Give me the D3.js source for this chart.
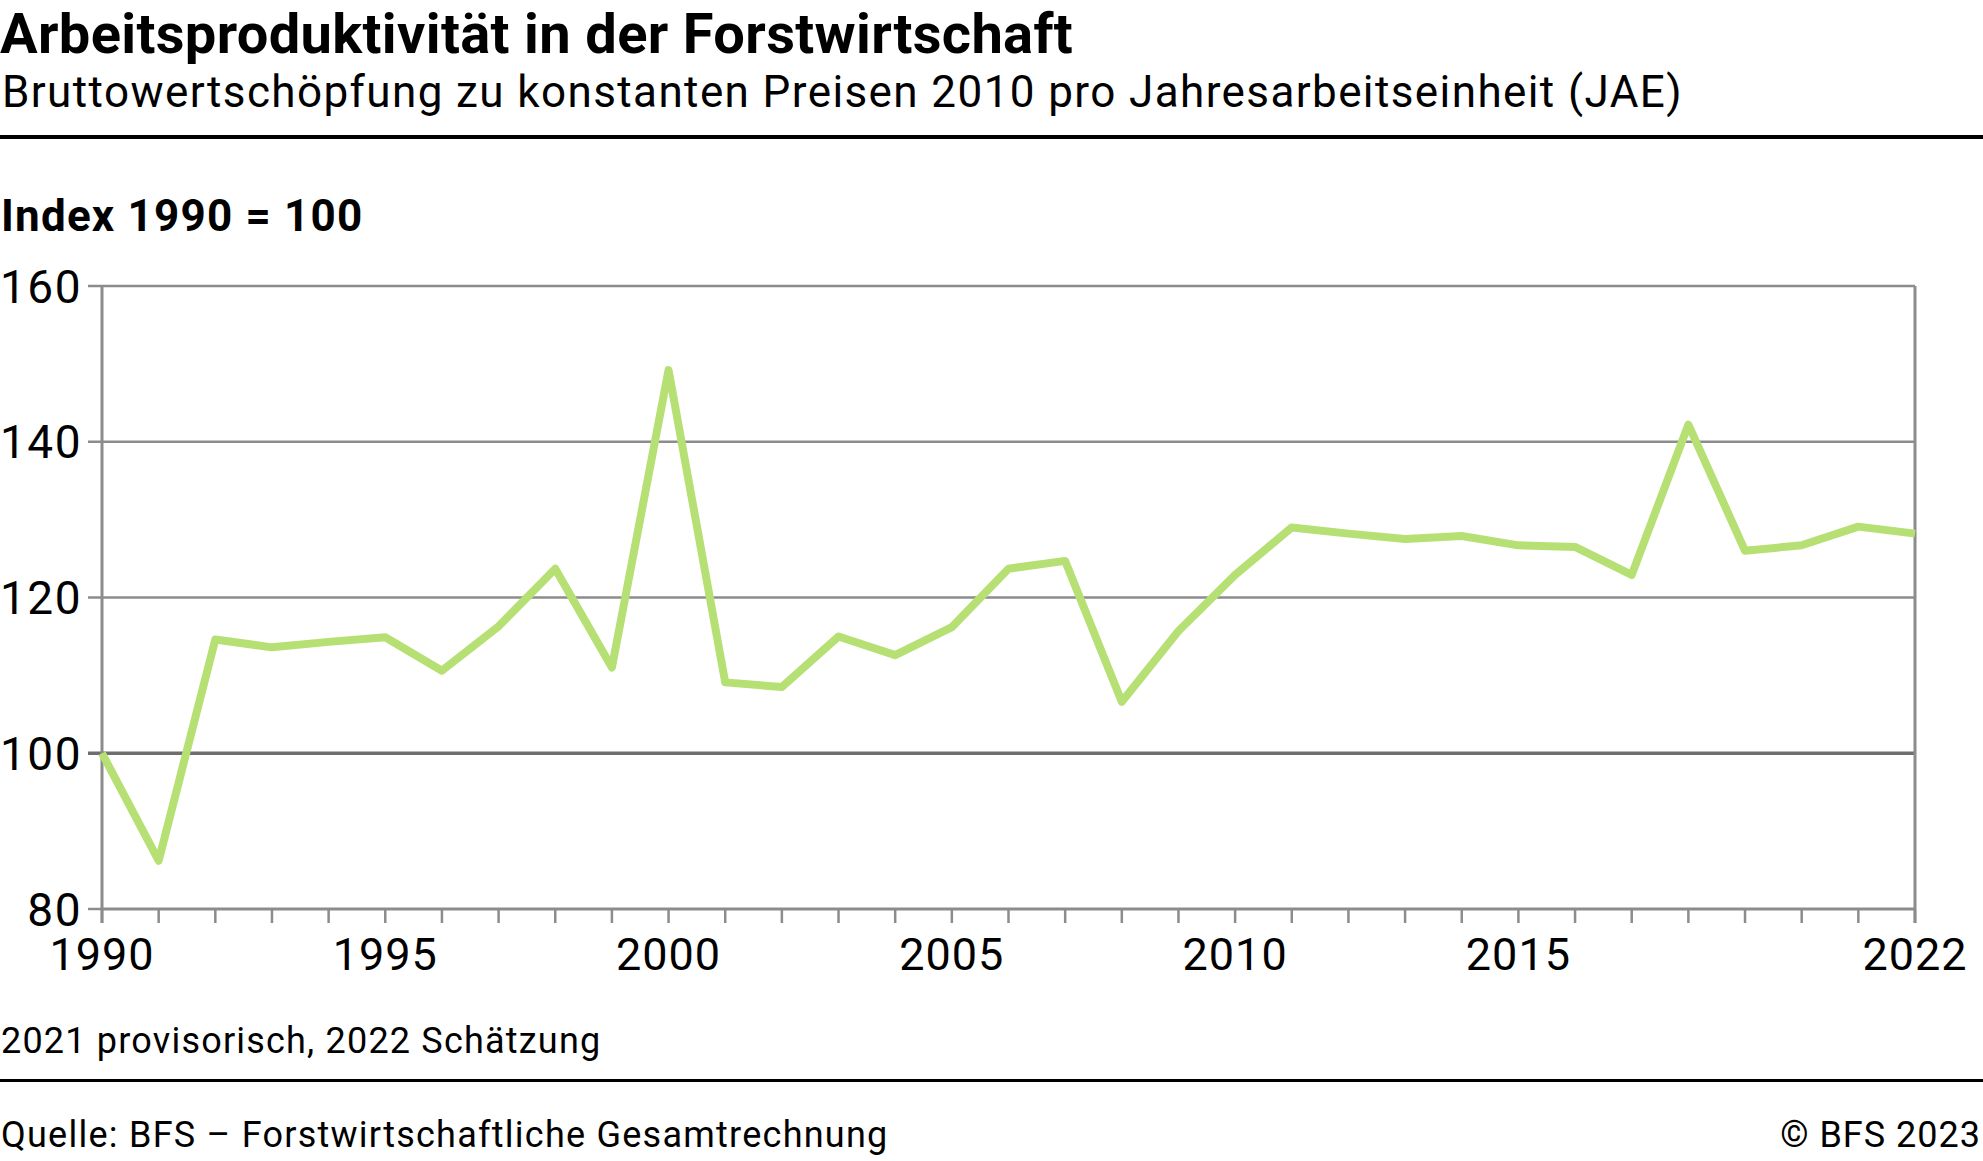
<!DOCTYPE html>
<meta charset="utf-8">
<script src="https://d3js.org/d3.v7.min.js"></script>
<style>
  body { margin: 0; background: #fff; }
  text { font-family: Roboto, sans-serif; fill: #000; }
</style>
<div class="vis"></div>

<script>
  // Index 1990 = 100
  let years = d3.range(1990, 2023);
  let values = [100, 86.2, 114.6, 113.6, 114.3, 114.9, 110.6, 116.3, 123.7, 111.0,
                149.2, 109.1, 108.5, 115.0, 112.6, 116.2, 123.7, 124.7, 106.6, 115.7,
                122.9, 129.0, 128.2, 127.5, 127.9, 126.7, 126.5, 122.9, 142.2, 126.0,
                126.7, 129.1, 128.2];
  let yTicks = [80, 100, 120, 140, 160];
  let xLabels = [1990, 1995, 2000, 2005, 2010, 2015, 2022];

  let W = 1983, H = 1161;
  let plotLeft = 102, plotRight = 1915, plotTop = 286, plotBottom = 909;

  let svg = d3.select('.vis').append('svg')
    .attr("width", W).attr("height", H);

  let x = d3.scaleLinear().domain([1990, 2022]).range([plotLeft, plotRight]);
  let y = d3.scaleLinear().domain([80, 160]).range([plotBottom, plotTop]);

  // header
  svg.append("text").attr("x", 0).attr("y", 53)
    .attr("font-size", 56).attr("font-weight", 700)
    .attr("letter-spacing", 0.35)
    .text("Arbeitsproduktivität in der Forstwirtschaft");
  svg.append("text").attr("x", 2).attr("y", 107)
    .attr("font-size", 44).attr("letter-spacing", 1.4)
    .text("Bruttowertschöpfung zu konstanten Preisen 2010 pro Jahresarbeitseinheit (JAE)");
  svg.append("rect").attr("x", 0).attr("y", 135).attr("width", W).attr("height", 4).attr("fill", "#000");

  svg.append("text").attr("x", 1).attr("y", 231)
    .attr("font-size", 44).attr("font-weight", 700).attr("letter-spacing", 1.2)
    .text("Index 1990 = 100");

  // gridlines
  svg.selectAll("line.grid")
    .data(yTicks.filter(d => d > 80))
    .join("line")
      .attr("class", "grid")
      .attr("x1", plotLeft - 14).attr("x2", plotRight)
      .attr("y1", d => y(d)).attr("y2", d => y(d))
      .attr("stroke", d => d == 100 ? "#6e6e6e" : "#8c8c8c")
      .attr("stroke-width", d => d == 100 ? 3.5 : 2.5);
  // tick at 80
  svg.append("line").attr("x1", plotLeft - 14).attr("x2", plotLeft)
    .attr("y1", y(80)).attr("y2", y(80)).attr("stroke", "#8c8c8c").attr("stroke-width", 2.5);

  // frame
  svg.append("line").attr("x1", plotLeft).attr("x2", plotLeft).attr("y1", plotTop).attr("y2", plotBottom + 14)
    .attr("stroke", "#8c8c8c").attr("stroke-width", 3);
  svg.append("line").attr("x1", plotRight).attr("x2", plotRight).attr("y1", plotTop).attr("y2", plotBottom + 14)
    .attr("stroke", "#8c8c8c").attr("stroke-width", 3);
  svg.append("line").attr("x1", plotLeft).attr("x2", plotRight).attr("y1", plotBottom).attr("y2", plotBottom)
    .attr("stroke", "#8c8c8c").attr("stroke-width", 3);

  // x ticks every year
  svg.selectAll("line.xtick")
    .data(years)
    .join("line")
      .attr("class", "xtick")
      .attr("x1", d => x(d)).attr("x2", d => x(d))
      .attr("y1", plotBottom).attr("y2", plotBottom + 14)
      .attr("stroke", "#8c8c8c").attr("stroke-width", 2.5);

  // y labels
  svg.selectAll("text.ylab")
    .data(yTicks)
    .join("text")
      .attr("class", "ylab")
      .attr("x", plotLeft - 20).attr("y", d => y(d))
      .attr("dy", "0.36em")
      .attr("text-anchor", "end")
      .attr("font-size", 46).attr("letter-spacing", 1.5)
      .text(d => d);

  // x labels
  svg.selectAll("text.xlab")
    .data(xLabels)
    .join("text")
      .attr("class", "xlab")
      .attr("x", d => x(d)).attr("y", 970)
      .attr("text-anchor", "middle")
      .attr("font-size", 45).attr("letter-spacing", 1)
      .text(d => d);

  // the series
  let line = d3.line().x((d, i) => x(years[i])).y(d => y(d));
  svg.append("path")
    .attr("d", line(values))
    .attr("fill", "none")
    .attr("stroke", "#b6e074")
    .attr("stroke-width", 8)
    .attr("stroke-linejoin", "round")
    .attr("stroke-linecap", "butt");

  // footer
  svg.append("text").attr("x", 1).attr("y", 1053)
    .attr("font-size", 36).attr("letter-spacing", 1.2)
    .text("2021 provisorisch, 2022 Schätzung");
  svg.append("rect").attr("x", 0).attr("y", 1079).attr("width", W).attr("height", 3).attr("fill", "#000");
  svg.append("text").attr("x", 1).attr("y", 1147)
    .attr("font-size", 36).attr("letter-spacing", 1.25)
    .text("Quelle: BFS – Forstwirtschaftliche Gesamtrechnung");
  svg.append("text").attr("x", W - 2).attr("y", 1147)
    .attr("font-size", 36).attr("text-anchor", "end").attr("letter-spacing", 1)
    .text("© BFS 2023");
</script>
